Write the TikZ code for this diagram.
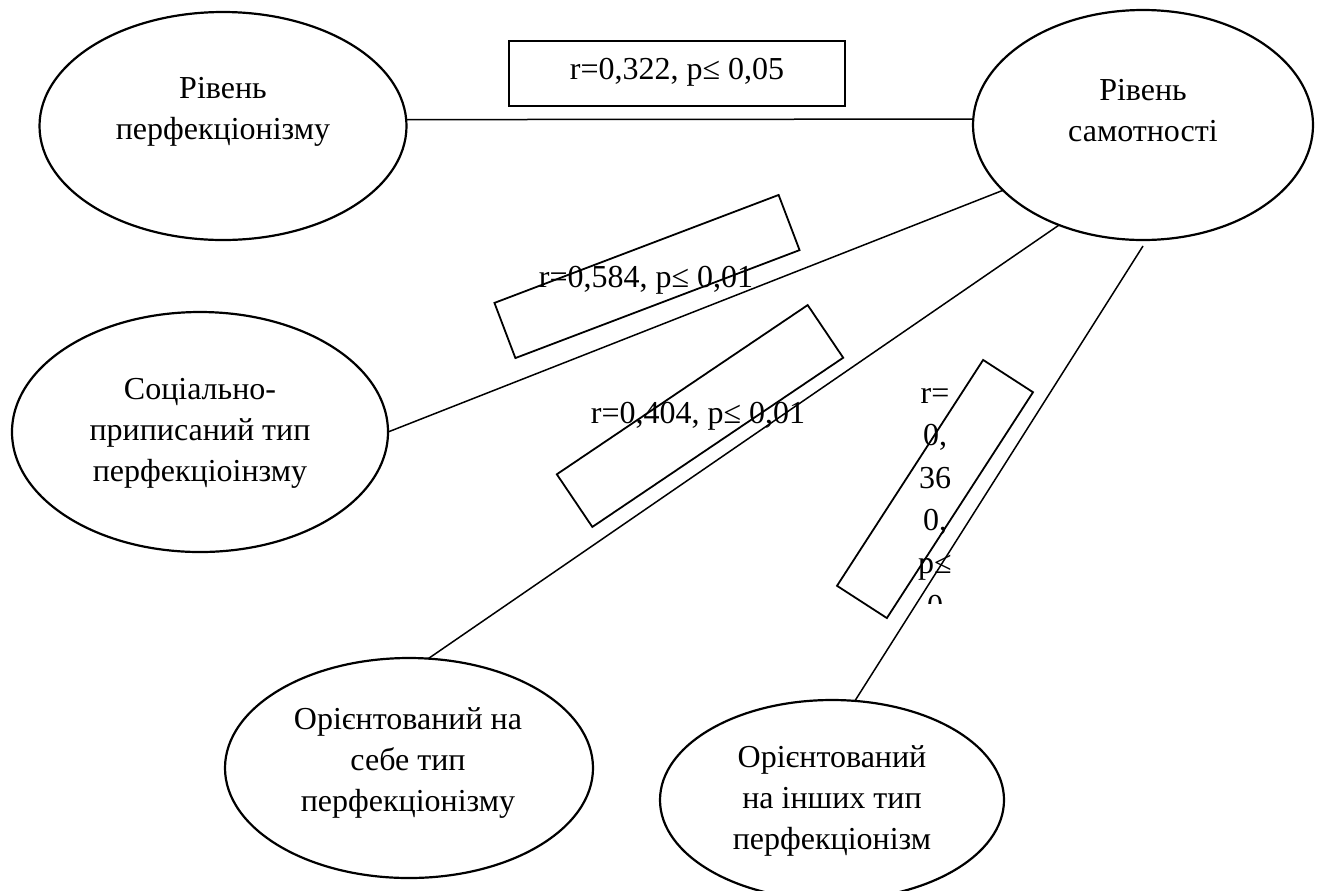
\documentclass[tikz,border=0pt]{standalone}
\usepackage{fontspec}
\setmainfont{Liberation Serif}
\usetikzlibrary{shapes.geometric,calc}
\tikzset{
  ell/.style={draw, ellipse, line width=1.1pt, inner sep=0pt, outer sep=0pt},
  txt/.style={align=center, inner sep=0pt, font=\fontsize{16}{20.5}\selectfont},
  rbox/.style={draw, rectangle, line width=0.9pt, inner sep=0pt, outer sep=0pt},
  conn/.style={line width=0.75pt}
}
\begin{document}
\begin{tikzpicture}[x=0.5pt,y=-0.5pt]
\path[use as bounding box, clip] (0,0) rectangle (1321,890);
% ellipses
\node[ell, minimum width=183.5pt, minimum height=114pt] (e1) at (223,126) {};
\node[ell, minimum width=170pt, minimum height=115pt] (e2) at (1143,125) {};
\node[ell, minimum width=188pt, minimum height=120pt] (e3) at (200,432) {};
\node[ell, minimum width=184pt, minimum height=110pt] (e4) at (409,768) {};
\node[ell, minimum width=172pt, minimum height=100pt] (e5) at (832,800) {};
% ellipse texts
\node[txt] (t1) at (223,111) {\strut Рівень\\\strut перфекціонізму};
\node[txt] (t2) at (1143,113) {\strut Рівень\\\strut самотності};
\node[txt] (t3) at (200,432) {\strut Соціально-\\\strut приписаний тип\\\strut перфекціоінзму};
\node[txt] (t4) at (408,762) {\strut Орієнтований на\\\strut себе тип\\\strut перфекціонізму};
\node[txt] (t5) at (832,800) {\strut Орієнтований\\\strut на інших тип\\\strut перфекціонізм};
% label boxes
\node[rbox, minimum width=168pt, minimum height=32.5pt] (b1) at (677,73.5) {};
\node[txt] (l1) at (677,71) {\strut r=0,322, p≤ 0,05};
\node[rbox, minimum width=152pt, minimum height=29.5pt, rotate=20.8] (b2) at (647,276.5) {};
\node[rbox, minimum width=151.3pt, minimum height=31.75pt, rotate=34] (b3) at (700,416) {};
\node[rbox, minimum width=134.5pt, minimum height=29.7pt, rotate=57.1] (b4) at (935,489) {};
\node[txt] (l2) at (646,279) {\strut r=0,584, p≤ 0,01};
\node[txt] (l3) at (698,415) {\strut r=0,404, p≤ 0,01};
\begin{scope}
\clip (880,340) rectangle (990,603);
\node[txt, font=\fontsize{16}{21.3}\selectfont] (l4) at (935,501) {\strut r=\\\strut 0,\\\strut 36\\\strut 0,\\\strut p≤\\\strut 0};
\end{scope}
% connectors
\draw[conn] (e1.2) -- (e2.178);
\draw[conn] (e3.east) -- (e2.205);
\draw[conn] (e4.80) -- (e2.230);
\draw[conn] (e5.77) -- ($(e2.south)+(0,6)$);
\end{tikzpicture}
\end{document}
